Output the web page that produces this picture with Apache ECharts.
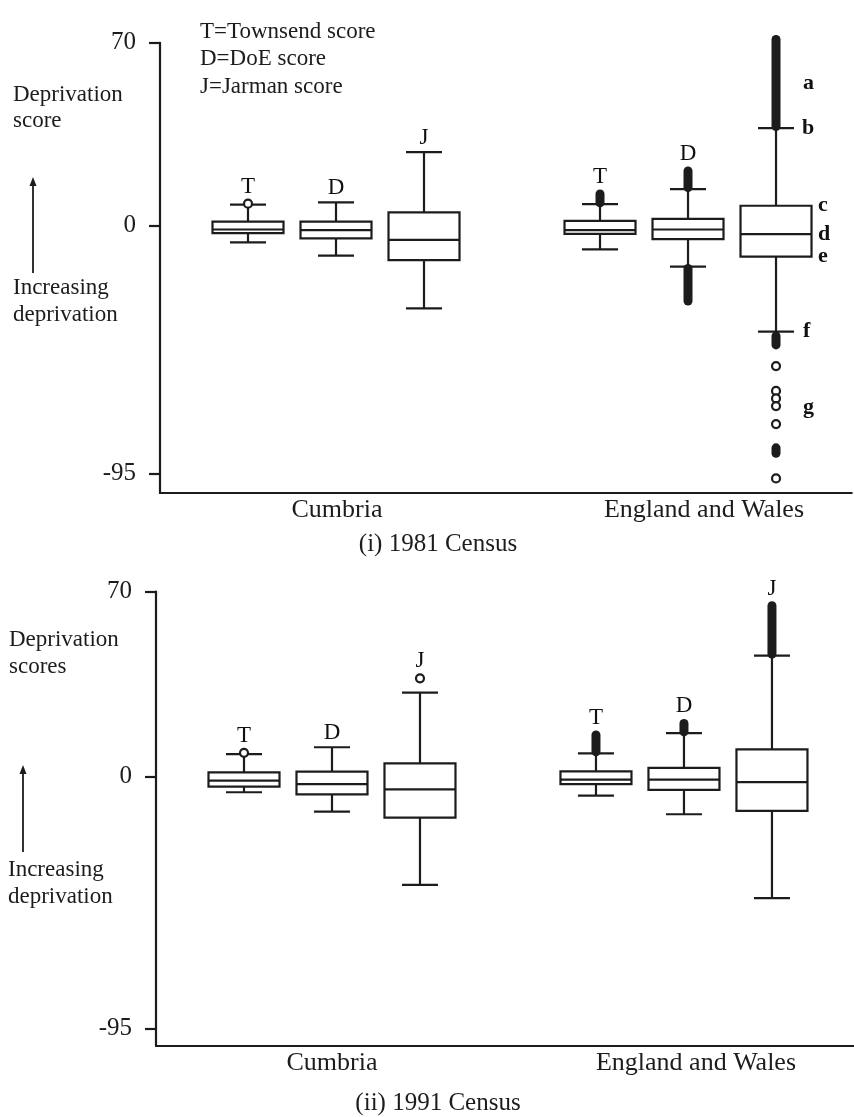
<!DOCTYPE html>
<html>
<head>
<meta charset="utf-8">
<script src="https://cdn.jsdelivr.net/npm/echarts@6/dist/echarts.min.js"></script>
<style>
html,body{margin:0;padding:0;background:#fff;}
#chart{width:854px;height:1117px;}
</style>
</head>
<body>
<div id="chart"></div>
<script>
// ---------------- data ----------------
const regions = ['Cumbria', 'England and Wales'];
const scores = ['T', 'D', 'J'];
const scoreKey = ['T=Townsend score', 'D=DoE score', 'J=Jarman score'];
const yTicks = [70, 0, -95];
const panelTitles = ['(i) 1981 Census', '(ii) 1991 Census'];

// box statistics: [lower whisker, Q1, median, Q3, upper whisker]
// order: Cumbria T, D, J, England and Wales T, D, J
const box1981 = [
  [-6.4, -2.9, -1.5, 1.5, 8.0],
  [-11.5, -4.9, -1.7, 1.5, 8.9],
  [-31.7, -13.2, -5.5, 5.1, 28.1],
  [-9.1, -3.2, -1.7, 1.8, 8.2],
  [-15.7, -5.2, -1.5, 2.6, 14.0],
  [-40.6, -11.9, -3.3, 7.6, 37.3]
];
const box1991 = [
  [-5.8, -3.7, -1.4, 1.7, 8.6],
  [-13.1, -6.6, -2.7, 2.0, 11.2],
  [-40.8, -15.4, -4.7, 5.1, 31.8],
  [-7.1, -2.7, -1.0, 2.1, 8.9],
  [-14.1, -4.9, -1.0, 3.4, 16.5],
  [-45.8, -12.8, -2.0, 10.4, 45.8]
];
// isolated outliers
const outliers1981 = [[8.4], [], [], [], [], [-53.8, -63.3, -66.2, -69.1, -76.0, -96.8]];
const outliers1991 = [[9.1], [], [37.2], [], [], []];
// dense runs of overlapping outliers [from, to]
const outlierRuns1981 = [[], [], [], [[8.7, 12.1]], [[14.6, 20.9], [-16.4, -28.9]], [[37.9, 71.3], [-42.3, -45.7], [-85.1, -87.2]]];
const outlierRuns1991 = [[], [], [], [[9.5, 15.8]], [[17.0, 20.2]], [[46.4, 64.6]]];
// part annotations on England and Wales J (1981)
const partLetters = ['a', 'b', 'c', 'd', 'e', 'f', 'g'];

// ---------------- styling ----------------
const INK = '#1c1c1c';
const SERIF = '"Liberation Serif", "Times New Roman", serif';
const BOX_W = 71, CAP_W = 36, LW = 2.2, DOT = 9;

function xPos(i) { // i = box index 0..5 ; region gap of one slot
  const g = Math.floor(i / scores.length), s = i % scores.length;
  return g * (scores.length + 1) + s;
}

function renderBox(params, api) {
  const x = api.value(0);
  const lo = api.coord([x, api.value(1)]);
  const q1 = api.coord([x, api.value(2)]);
  const md = api.coord([x, api.value(3)]);
  const q3 = api.coord([x, api.value(4)]);
  const hi = api.coord([x, api.value(5)]);
  const cx = lo[0], bw = BOX_W / 2, cw = CAP_W / 2;
  const st = { stroke: INK, lineWidth: LW, fill: null };
  return {
    type: 'group',
    children: [
      { type: 'line', shape: { x1: cx, y1: hi[1], x2: cx, y2: q3[1] }, style: st },
      { type: 'line', shape: { x1: cx, y1: q1[1], x2: cx, y2: lo[1] }, style: st },
      { type: 'line', shape: { x1: cx - cw, y1: hi[1], x2: cx + cw, y2: hi[1] }, style: st },
      { type: 'line', shape: { x1: cx - cw, y1: lo[1], x2: cx + cw, y2: lo[1] }, style: st },
      { type: 'rect', shape: { x: cx - bw, y: q3[1], width: 2 * bw, height: q1[1] - q3[1] }, style: { stroke: INK, lineWidth: LW, fill: '#fff' } },
      { type: 'line', shape: { x1: cx - bw, y1: md[1], x2: cx + bw, y2: md[1] }, style: st }
    ]
  };
}
function renderRun(params, api) {
  const x = api.value(0);
  const a = api.coord([x, api.value(1)]);
  const b = api.coord([x, api.value(2)]);
  return { type: 'line', shape: { x1: a[0], y1: a[1], x2: b[0], y2: b[1] },
    style: { stroke: INK, lineWidth: DOT, lineCap: 'round' } };
}

function panelSeries(p, boxes, outs, runs, withParts) {
  const s = [];
  s.push({ type: 'custom', xAxisIndex: p, yAxisIndex: p, renderItem: renderBox, clip: false,
    encode: { x: 0, y: [1, 2, 3, 4, 5] },
    data: boxes.map((b, i) => [xPos(i)].concat(b)), z: 2 });
  const runData = [];
  runs.forEach((rs, i) => rs.forEach(r => runData.push([xPos(i), r[0], r[1]])));
  s.push({ type: 'custom', xAxisIndex: p, yAxisIndex: p, renderItem: renderRun, clip: false,
    encode: { x: 0, y: [1, 2] }, data: runData, z: 3 });
  const ptData = [];
  outs.forEach((os, i) => os.forEach(v => ptData.push([xPos(i), v])));
  s.push({ type: 'scatter', xAxisIndex: p, yAxisIndex: p, symbol: 'circle', symbolSize: DOT - 1,
    itemStyle: { color: '#fff', borderColor: INK, borderWidth: LW, opacity: 1 },
    data: ptData, z: 4, silent: true });
  // score letters above each box
  const lab = boxes.map((b, i) => {
    const tops = [b[4]].concat(outs[i]).concat(runs[i].map(r => Math.max(r[0], r[1])));
    const top = Math.max.apply(null, tops);
    const fromOut = top > b[4];
    return { value: [xPos(i), top], symbolSize: fromOut ? 5 : 0,
      label: { formatter: scores[i % scores.length] } };
  });
  s.push({ type: 'scatter', xAxisIndex: p, yAxisIndex: p, symbol: 'circle',
    itemStyle: { color: 'rgba(0,0,0,0)' }, silent: true, z: 5,
    label: { show: true, position: 'top', distance: 3, color: '#111', opacity: 1, textBorderWidth: 0,
      fontFamily: SERIF, fontSize: 23 },
    data: lab });
  if (withParts) {
    const i = boxes.length - 1, b = boxes[i];
    const up = runs[i].filter(r => r[0] > b[4]);
    const upMid = (Math.min.apply(null, up.map(r => Math.min(r[0], r[1]))) + Math.max.apply(null, up.map(r => Math.max(r[0], r[1])))) / 2;
    const lowVals = outs[i].filter(v => v < b[0]).concat(...runs[i].filter(r => r[0] < b[0]));
    const lowMid = (Math.min.apply(null, lowVals) + Math.max.apply(null, lowVals)) / 2;
    const vals = [upMid, b[4], b[3], b[2], b[1], b[0], lowMid];
    const dist = [27, 26, 42, 42, 42, 27, 27];
    s.push({ type: 'scatter', xAxisIndex: p, yAxisIndex: p, symbolSize: 0, silent: true, z: 5,
      itemStyle: { color: 'rgba(0,0,0,0)' },
      label: { show: true, position: 'right', color: '#111', opacity: 1, textBorderWidth: 0,
        fontFamily: SERIF, fontSize: 22, fontWeight: 'bold' },
      data: vals.map((v, k) => ({ value: [xPos(i), v], label: { formatter: partLetters[k], distance: dist[k] } })) });
  }
  return s;
}

function yAxisOpt(p, min) {
  return { type: 'value', gridIndex: p, min: min, max: 70, position: 'left',
    axisLine: { show: true, onZero: false, lineStyle: { color: INK, width: LW } },
    axisTick: { show: true, length: 11, customValues: yTicks, lineStyle: { color: INK, width: LW } },
    axisLabel: { show: true, customValues: yTicks, margin: 24, color: INK, fontFamily: SERIF, fontSize: 25 },
    splitLine: { show: false } };
}
function xAxisOpt(p, max) {
  return { type: 'value', gridIndex: p, min: -1, max: max, position: 'bottom',
    axisLine: { show: true, onZero: false, lineStyle: { color: INK, width: LW } },
    axisTick: { show: false }, axisLabel: { show: false }, splitLine: { show: false } };
}

function txt(x, y, s, size, align) {
  return { type: 'text', silent: true, style: { text: s, x: x, y: y, fill: INK,
    font: size + 'px ' + SERIF, align: align || 'left', verticalAlign: 'middle',
    textAlign: align || 'left', textVerticalAlign: 'middle' } };
}
function arrow(x, yTip, yEnd) {
  return [
    { type: 'line', silent: true, shape: { x1: x, y1: yEnd, x2: x, y2: yTip + 6 }, style: { stroke: INK, lineWidth: 1.8 } },
    { type: 'polygon', silent: true, shape: { points: [[x, yTip], [x - 3.5, yTip + 9], [x + 3.5, yTip + 9]] }, style: { fill: INK } }
  ];
}

const graphics = [
  txt(200, 32, scoreKey[0], 23), txt(200, 59, scoreKey[1], 23), txt(200, 87, scoreKey[2], 23),
  txt(13, 95, 'Deprivation', 23), txt(13, 121, 'score', 23),
  ...arrow(33, 177, 273),
  txt(13, 288, 'Increasing', 23), txt(13, 315, 'deprivation', 23),
  txt(337, 510, regions[0], 26, 'center'), txt(704, 510, regions[1], 26, 'center'),
  txt(438, 544, panelTitles[0], 25, 'center'),
  txt(9, 640, 'Deprivation', 23), txt(9, 667, 'scores', 23),
  ...arrow(23, 765, 852),
  txt(8, 870, 'Increasing', 23), txt(8, 897, 'deprivation', 23),
  txt(332, 1063, regions[0], 26, 'center'), txt(696, 1063, regions[1], 26, 'center'),
  txt(438, 1103, panelTitles[1], 25, 'center')
];

const chart = echarts.init(document.getElementById('chart'), null, { renderer: 'canvas' });
chart.setOption({
  backgroundColor: '#fff',
  animation: false,
  textStyle: { fontFamily: SERIF },
  grid: [
    { left: 160, top: 42.8, width: 691.7, height: 450.2 },
    { left: 156, top: 591.5, width: 697.8, height: 454.5 }
  ],
  xAxis: [xAxisOpt(0, 6.86), xAxisOpt(1, 6.93)],
  yAxis: [yAxisOpt(0, -102.4), yAxisOpt(1, -101.6)],
  graphic: graphics,
  series: panelSeries(0, box1981, outliers1981, outlierRuns1981, true)
    .concat(panelSeries(1, box1991, outliers1991, outlierRuns1991, false))
});
</script>
</body>
</html>
